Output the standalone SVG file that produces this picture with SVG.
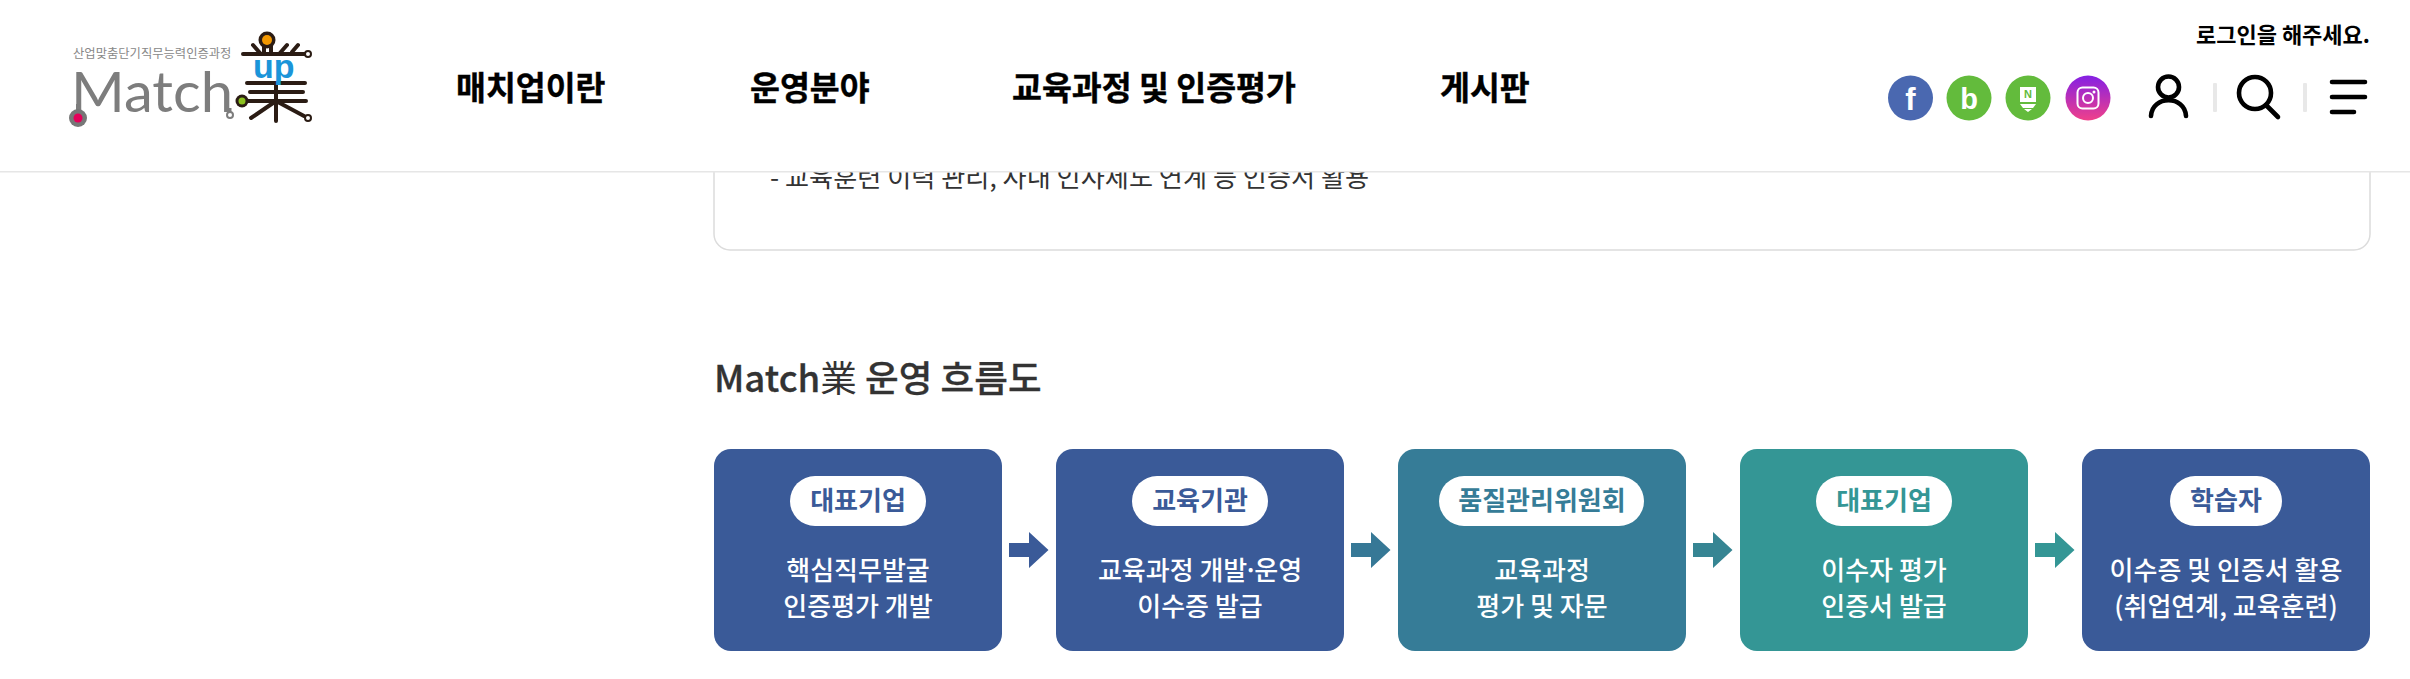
<svg xmlns="http://www.w3.org/2000/svg" width="2410" height="679" viewBox="0 0 2410 679">
<style>
text{font-family:"Noto Sans CJK KR","Noto Sans",sans-serif}
.nav{font-size:32.5px;font-weight:700;fill:#000;stroke:#000;stroke-width:.4}
.box{stroke:none}
.pill{fill:#fff}
.pt{font-size:26px;font-weight:700;text-anchor:middle}
.bt{font-size:26px;font-weight:500;fill:#fff;text-anchor:middle}
.ic{fill:none;stroke:#000;stroke-width:4.6;stroke-linecap:round}
.sep{fill:#e8e8e8}
.dk{fill:none;stroke:#2b1c14;stroke-width:4;stroke-linecap:round}
.o{fill:#fff;stroke:#2b1c14;stroke-width:2}
</style>
<defs>
<linearGradient id="ig" x1="0" y1="0" x2="0" y2="1"><stop offset="0" stop-color="#8420e4"/><stop offset="1" stop-color="#f0408a"/></linearGradient>
</defs>
<rect width="2410" height="679" fill="#fff"/>
<g id="card">
<rect x="714" y="120" width="1656" height="130" rx="16" fill="#fff" stroke="#dcdcdc" stroke-width="1.5"/>
<text x="770" y="187" font-size="26.2" fill="#333">- 교육훈련 이력 관리, 사내 인사제도 연계 등 인증서 활용</text>
</g>
<g id="header">
<rect width="2410" height="171" fill="#fff"/>
<rect y="171" width="2410" height="1.5" fill="#e6e6e6"/>
<g id="logo">
<text x="73" y="58" font-size="12.3" fill="#888">산업맞춤단기직무능력인증과정</text>
<text x="71" y="112" font-size="57" fill="#7d7d7d" textLength="162" lengthAdjust="spacingAndGlyphs" style="font-family:Lato,'Liberation Sans',sans-serif;font-weight:400">Match</text>
<line x1="78" y1="104" x2="78" y2="112" stroke="#7d7d7d" stroke-width="4"/>
<circle cx="78" cy="118" r="9" fill="#777"/><circle cx="78" cy="118" r="4.5" fill="#e5005a"/>
<path d="M230 108V112" fill="none" stroke="#7d7d7d" stroke-width="3"/>
<circle cx="230" cy="115" r="3" fill="#fff" stroke="#7d7d7d" stroke-width="2"/>
<g id="mark">
<path class="dk" d="M243 54H305M253 45L260 53M264 46V53M271 46V53M280 53L287 45M292 52L298 45"/>
<circle cx="267" cy="40" r="8.5" fill="#2b1c14"/><circle cx="267" cy="40" r="5" fill="#f39800"/>
<circle class="o" cx="308" cy="54" r="3"/>
<path class="dk" d="M247 83H305M250 92H303M248 101H306M276 83V121M276 101L251 118M276 101L304 116"/>
<circle cx="242" cy="101" r="6.5" fill="#2b1c14"/><circle cx="242" cy="101" r="3.5" fill="#8cc21f"/>
<circle class="o" cx="308" cy="118" r="3"/>
</g>
<text x="253" y="78" font-size="34" font-weight="700" fill="#1b95d9" style="font-family:'Liberation Sans',sans-serif">up</text>
</g>
<g id="nav">
<text class="nav" x="456" y="100">매치업이란</text>
<text class="nav" x="750" y="100">운영분야</text>
<text class="nav" x="1012" y="100">교육과정 및 인증평가</text>
<text class="nav" x="1440" y="100">게시판</text>
</g>
<text x="2370" y="43" font-size="22" font-weight="700" fill="#000" text-anchor="end">로그인을 해주세요.</text>
<g id="social">
<circle cx="1910.5" cy="98" r="22.5" fill="#4a68b0"/>
<text x="1910.5" y="110" font-size="31" font-weight="700" fill="#fff" text-anchor="middle" style="font-family:'Liberation Sans',sans-serif">f</text>
<circle cx="1969" cy="98" r="22.5" fill="#63bb3c"/>
<text x="1969" y="109" font-size="29" font-weight="700" fill="#fff" text-anchor="middle" style="font-family:'Liberation Sans',sans-serif">b</text>
<circle cx="2028" cy="98" r="22.5" fill="#63bb3c"/>
<path d="M2020 87H2036V102H2020ZM2020 104H2036L2033 108H2023ZM2024 109H2032L2028 112Z" fill="#fff"/>
<text x="2028" y="98" font-size="11" font-weight="700" fill="#63bb3c" text-anchor="middle" style="font-family:'Liberation Sans',sans-serif">N</text>
<circle cx="2088" cy="98" r="22.5" fill="url(#ig)"/>
<rect x="2077.5" y="87.5" width="21" height="21" rx="5" fill="none" stroke="#fff" stroke-width="2"/>
<circle cx="2088" cy="98" r="5" fill="none" stroke="#fff" stroke-width="2"/><circle cx="2094" cy="92" r="1.5" fill="#fff"/>
</g>
<g id="tools">
<circle class="ic" cx="2168.5" cy="87" r="10.5"/>
<path class="ic" d="M2151 116C2152 95 2185 95 2186 116"/>
<rect class="sep" x="2213" y="83" width="4" height="29" rx="1"/>
<circle class="ic" cx="2255" cy="93" r="16"/>
<path class="ic" d="M2266 105L2278 117"/>
<rect class="sep" x="2303" y="83" width="4" height="29" rx="1"/>
<path class="ic" d="M2332 82H2365M2332 97H2365M2332 112H2354"/>
</g>
</g>
<text id="title" x="714" y="392" font-size="36.6" font-weight="500" fill="#333" stroke="#333" stroke-width=".3">Match<tspan font-weight="400" stroke="none">業</tspan> 운영 흐름도</text>
<g id="node-1">
<rect class="box" x="714" y="449" width="288" height="202" rx="17" fill="#3a5a98"/>
<rect class="pill" x="790" y="476" width="136" height="50" rx="25"/>
<text class="pt" x="858" y="510" fill="#3a5a98">대표기업</text>
<text class="bt" x="858" y="580">핵심직무발굴</text><text class="bt" x="858" y="616">인증평가 개발</text>
</g>
<g id="node-2">
<rect class="box" x="1056" y="449" width="288" height="202" rx="17" fill="#3a5a98"/>
<rect class="pill" x="1132" y="476" width="136" height="50" rx="25"/>
<text class="pt" x="1200" y="510" fill="#3a5a98">교육기관</text>
<text class="bt" x="1200" y="580">교육과정 개발<tspan dx="-4">·</tspan><tspan dx="-4">운영</tspan></text><text class="bt" x="1200" y="616">이수증 발급</text>
</g>
<g id="node-3">
<rect class="box" x="1398" y="449" width="288" height="202" rx="17" fill="#367c97"/>
<rect class="pill" x="1439" y="476" width="205" height="50" rx="25"/>
<text class="pt" x="1542" y="510" fill="#367c97">품질관리위원회</text>
<text class="bt" x="1542" y="580">교육과정</text><text class="bt" x="1542" y="616">평가 및 자문</text>
</g>
<g id="node-4">
<rect class="box" x="1740" y="449" width="288" height="202" rx="17" fill="#349695"/>
<rect class="pill" x="1816" y="476" width="136" height="50" rx="25"/>
<text class="pt" x="1884" y="510" fill="#349695">대표기업</text>
<text class="bt" x="1884" y="580">이수자 평가</text><text class="bt" x="1884" y="616">인증서 발급</text>
</g>
<g id="node-5">
<rect class="box" x="2082" y="449" width="288" height="202" rx="17" fill="#3a5a98"/>
<rect class="pill" x="2170" y="476" width="112" height="50" rx="25"/>
<text class="pt" x="2226" y="510" fill="#3a5a98">학습자</text>
<text class="bt" x="2226" y="580">이수증 및 인증서 활용</text><text class="bt" x="2226" y="616">(취업연계, 교육훈련)</text>
</g>
<g id="connectors">
<polygon points="1009,543 1029,543 1029,532 1048.5,550 1029,568 1029,557 1009,557" fill="#3a5a98"/>
<polygon points="1351,543 1371,543 1371,532 1390.5,550 1371,568 1371,557 1351,557" fill="#367896"/>
<polygon points="1693,543 1713,543 1713,532 1732.5,550 1713,568 1713,557 1693,557" fill="#368593"/>
<polygon points="2035,543 2055,543 2055,532 2074.5,550 2055,568 2055,557 2035,557" fill="#349695"/>
</g>
</svg>
